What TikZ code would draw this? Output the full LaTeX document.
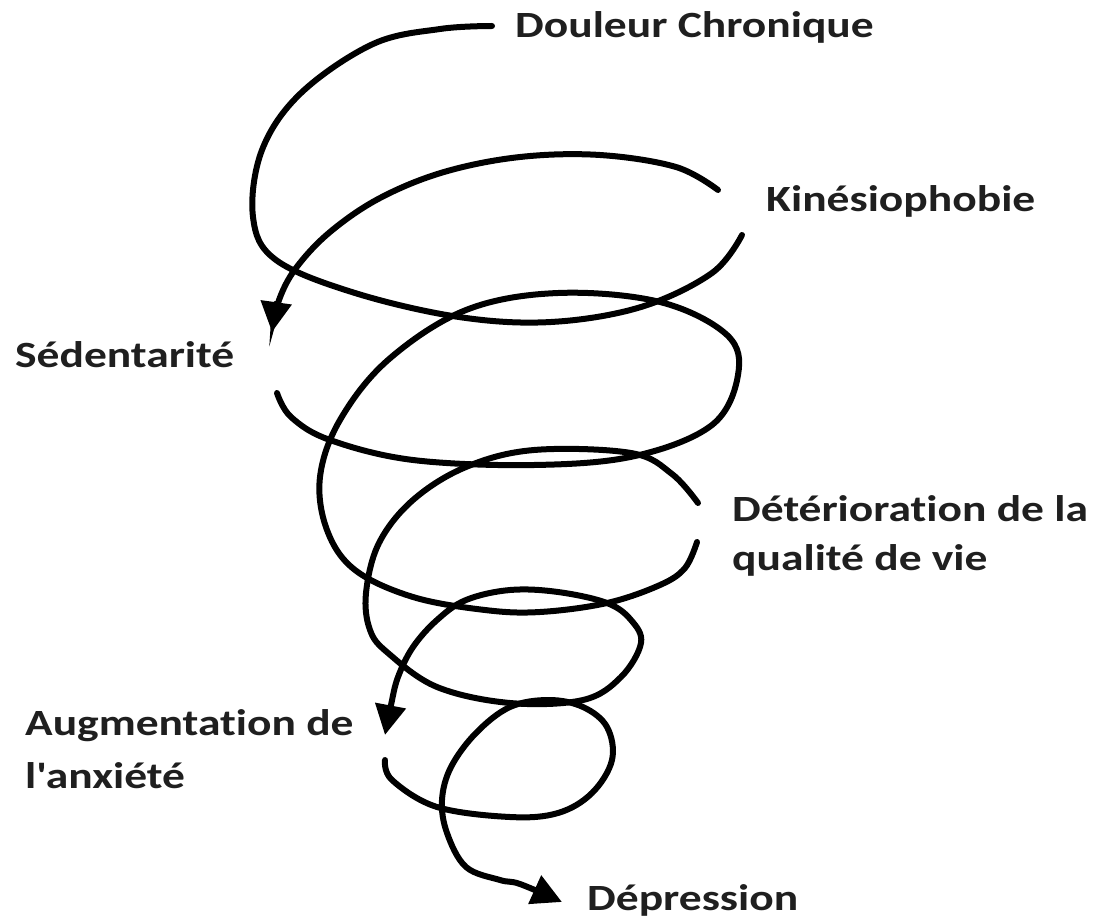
\documentclass[tikz,border=0pt]{standalone}
\usepackage{fontspec}
\newfontfamily\labfont{Carlito}[FakeStretch=1.23, Ligatures=NoCommon]
\usetikzlibrary{arrows.meta}
\begin{document}
\begin{tikzpicture}[x=1pt,y=-1pt,
  spiral/.style={line width=6pt, line cap=round, black},
  arrowend/.style={-{Triangle[length=30pt,width=30pt]}},
  lab/.style={anchor=base west, inner sep=0pt, text=black!88,
              font=\labfont\bfseries\fontsize{37}{44}\selectfont}]
\useasboundingbox (0,0) rectangle (1097,923);
\fill[white] (0,0) rectangle (1097,923);

% labels
\node[lab] (douleur) at (515,38)  {Douleur Chronique};
\node[lab] (kinesio) at (766,211) {Kinésiophobie};
\node[lab] (sed)     at (15,367)  {Sédentarité};
\node[lab] (det1)    at (732,521) {Détérioration de la};
\node[lab] (det2)    at (732,570) {qualité de vie};
\node[lab] (aug1)    at (25,735)  {Augmentation de};
\node[lab] (aug2)    at (25,788)  {l'anxiété};
\node[lab] (dep)     at (587,910) {Dépression};

% spiral pieces
\draw[spiral] plot[smooth, tension=0.6] coordinates {
  (492,26) (440,29) (373,44) (301,93) (262,150) (253,217) (276,260)
  (355,293) (459,317) (551,322) (641,307) (712,273) (742,235)};

\draw[spiral, arrowend] plot[smooth, tension=0.6] coordinates {
  (718,190) (676,167) (600,155) (520,157) (444,172) (380,198)
  (330,232) (296,268) (279,300) (272,332)};

\draw[spiral] plot[smooth, tension=0.6] coordinates {
  (277,393) (291,417) (330,440) (413,460) (534,465) (635,456) (712,425)
  (738,375) (727,335) (660,302) (558,293) (466,310) (388,360) (340,420)
  (320,477) (327,530) (355,570) (413,597) (485,610) (540,612) (607,603)
  (660,585) (685,568) (697,542)};

\draw[spiral, arrowend] plot[smooth, tension=0.6] coordinates {
  (698,503) (672,474) (631,453) (534,450) (466,467) (413,500) (379,543)
  (366,593) (370,630) (388,653) (437,687) (510,703) (583,700) (621,677)
  (641,643) (631,620) (607,603) (558,592) (510,590) (466,600) (437,620)
  (413,647) (398,677) (391,705) (385,735)};

\draw[spiral, arrowend] plot[smooth, tension=0.6] coordinates {
  (385,760) (392,780) (437,807) (510,817) (558,813) (592,793) (612,760)
  (607,727) (583,707) (549,700) (510,707) (476,733) (451,767) (442,800)
  (447,833) (466,867) (500,880) (520,884) (562,902)};
\end{tikzpicture}
\end{document}
